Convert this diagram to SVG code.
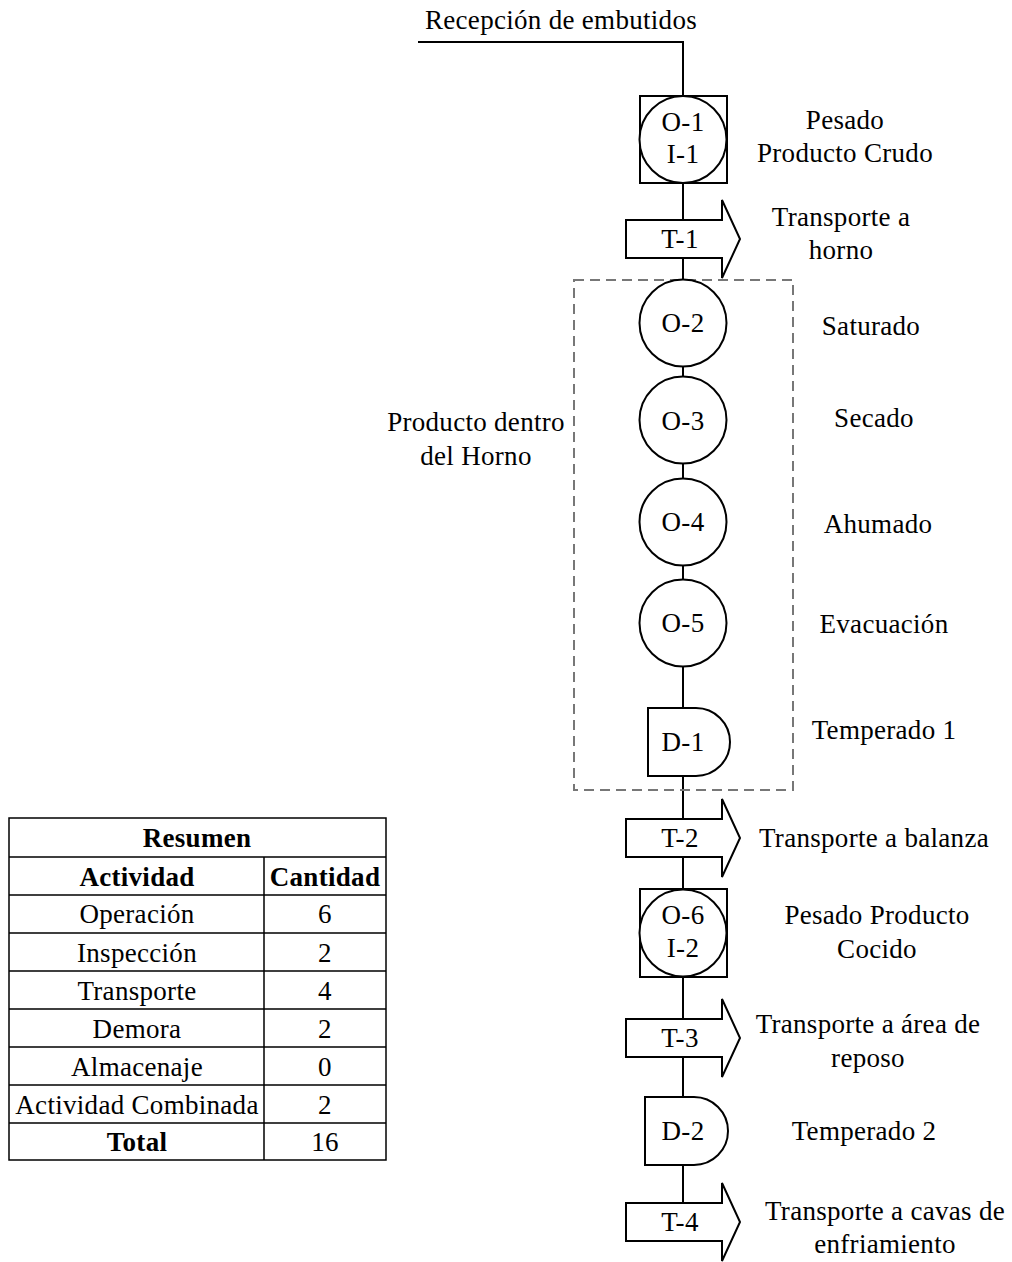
<svg xmlns="http://www.w3.org/2000/svg" width="1012" height="1262" viewBox="0 0 1012 1262">
<style>
text{font-family:"Liberation Serif","Times New Roman",serif;font-size:27px;letter-spacing:0.3px;fill:#000;text-anchor:middle}
.b{font-weight:bold}
.s{fill:#fff;stroke:#000;stroke-width:2}
.c{fill:none;stroke:#000;stroke-width:2}
.t{fill:none;stroke:#000;stroke-width:1.5}
</style>
<defs>
<path id="tr" d="M-57,-19 H39 V-39 L57,0 L39,39 V19 H-57 Z"/>
</defs>
<rect width="1012" height="1262" fill="#fff"/>
<g id="connectors">
<path class="c" d="M418,42 H683 V96"/>
<path class="c" d="M683,183 V220 M683,258 V280 M683,366 V377 M683,463 V479 M683,565 V580 M683,666 V708 M683,776 V820 M683,857 V889 M683,977 V1020 M683,1057 V1097 M683,1165 V1203"/>
</g>
<g id="group-horno">
<rect x="574" y="280" width="219" height="510" fill="none" stroke="#777" stroke-width="2" stroke-dasharray="10,6"/>
<text x="476" y="431">Producto dentro</text>
<text x="476" y="465">del Horno</text>
</g>
<text x="561" y="29">Recepción de embutidos</text>
<g id="O-1">
<rect class="s" x="640" y="96" width="87" height="87"/>
<circle class="s" cx="683" cy="139.5" r="43.5"/>
<text x="683" y="131">O-1</text>
<text x="683" y="163">I-1</text>
<text x="845" y="129">Pesado</text>
<text x="845" y="162">Producto Crudo</text>
</g>
<g id="T-1">
<use href="#tr" class="s" x="683" y="239"/>
<text x="680" y="248">T-1</text>
<text x="841" y="226">Transporte a</text>
<text x="841" y="259">horno</text>
</g>
<g id="O-2">
<circle class="s" cx="683" cy="323" r="43.5"/>
<text x="683" y="332">O-2</text>
<text x="871" y="335">Saturado</text>
</g>
<g id="O-3">
<circle class="s" cx="683" cy="420" r="43.5"/>
<text x="683" y="430">O-3</text>
<text x="874" y="427">Secado</text>
</g>
<g id="O-4">
<circle class="s" cx="683" cy="522" r="43.5"/>
<text x="683" y="531">O-4</text>
<text x="878" y="533">Ahumado</text>
</g>
<g id="O-5">
<circle class="s" cx="683" cy="623" r="43.5"/>
<text x="683" y="632">O-5</text>
<text x="884" y="633">Evacuación</text>
</g>
<g id="D-1">
<path class="s" d="M648,708 H696 A34,34 0 0 1 696,776 H648 Z"/>
<text x="683" y="751">D-1</text>
<text x="884" y="739">Temperado 1</text>
</g>
<g id="T-2">
<use href="#tr" class="s" x="683" y="838"/>
<text x="680" y="847">T-2</text>
<text x="874" y="847">Transporte a balanza</text>
</g>
<g id="O-6">
<rect class="s" x="640" y="889" width="87" height="88"/>
<circle class="s" cx="683" cy="933" r="43.5"/>
<text x="683" y="924">O-6</text>
<text x="683" y="957">I-2</text>
<text x="877" y="924">Pesado Producto</text>
<text x="877" y="958">Cocido</text>
</g>
<g id="T-3">
<use href="#tr" class="s" x="683" y="1038"/>
<text x="680" y="1047">T-3</text>
<text x="868" y="1033">Transporte a área de</text>
<text x="868" y="1067">reposo</text>
</g>
<g id="D-2">
<path class="s" d="M645,1097 H694 A34,34 0 0 1 694,1165 H645 Z"/>
<text x="683" y="1140">D-2</text>
<text x="864" y="1140">Temperado 2</text>
</g>
<g id="T-4">
<use href="#tr" class="s" x="683" y="1222"/>
<text x="680" y="1231">T-4</text>
<text x="885" y="1220">Transporte a cavas de</text>
<text x="885" y="1253">enfriamiento</text>
</g>
<g id="table">
<rect class="t" x="9" y="818" width="377" height="342" fill="#fff"/>
<path class="t" d="M9,857 H386 M9,895 H386 M9,933 H386 M9,971 H386 M9,1009 H386 M9,1047 H386 M9,1085 H386 M9,1123 H386 M264,857 V1160"/>
<text class="b" x="197" y="847">Resumen</text>
<text class="b" x="137" y="886">Actividad</text>
<text class="b" x="325" y="886">Cantidad</text>
<text x="137" y="923">Operación</text><text x="325" y="923">6</text>
<text x="137" y="962">Inspección</text><text x="325" y="962">2</text>
<text x="137" y="1000">Transporte</text><text x="325" y="1000">4</text>
<text x="137" y="1038">Demora</text><text x="325" y="1038">2</text>
<text x="137" y="1076">Almacenaje</text><text x="325" y="1076">0</text>
<text x="137" y="1114">Actividad Combinada</text><text x="325" y="1114">2</text>
<text class="b" x="137" y="1151">Total</text><text x="325" y="1151">16</text>
</g>
</svg>
